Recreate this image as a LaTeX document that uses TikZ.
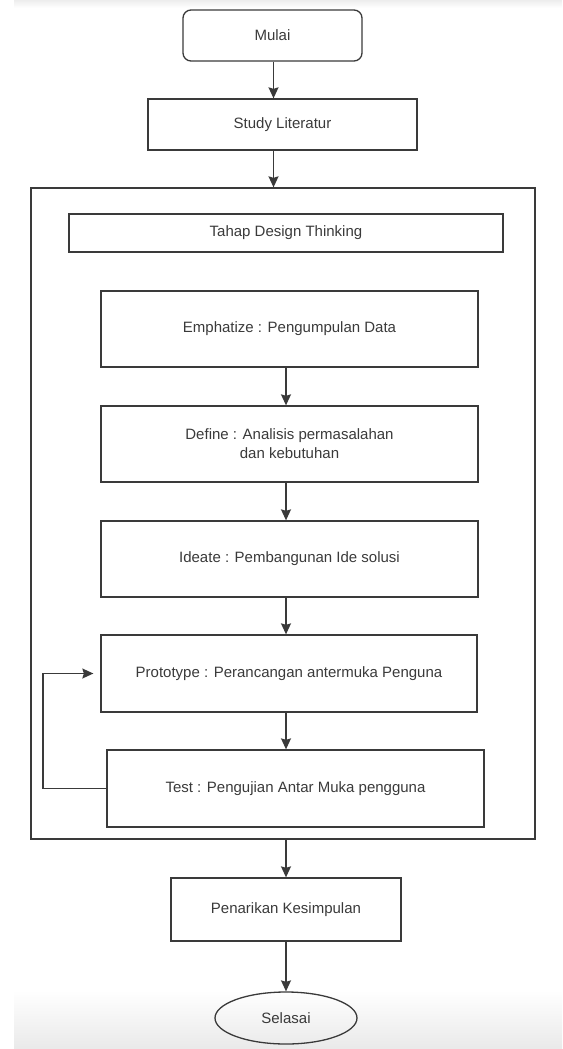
\documentclass[tikz,border=0pt]{standalone}
\usepackage{fontspec}
\setmainfont{Liberation Sans}
\usetikzlibrary{arrows.meta,shapes.geometric}
\definecolor{linec}{HTML}{3A3A3A}
\definecolor{textc}{HTML}{3A3A3A}
\tikzset{
  box/.style={draw=linec, line width=1.3pt, rectangle, inner sep=0pt, align=center,
    text=textc, font=\fontsize{15}{19}\selectfont},
  arr/.style={draw=linec, line width=1.3pt, -{Stealth[length=11pt,width=10pt,inset=1.5pt]}},
}
\begin{document}
\begin{tikzpicture}[x=1pt,y=-1pt]
\useasboundingbox (0,0) rectangle (562,1049);
% screenshot background bands
\shade[top color=gray!14, bottom color=white] (14,0) rectangle (562,8);
\shade[top color=white, bottom color=gray!17] (14,990) rectangle (562,1049);

\node[box, rounded corners=8pt, minimum width=179pt, minimum height=51pt] (mulai) at (272.5,35.5) {Mulai};
\node[box, minimum width=269pt, minimum height=51pt] (study) at (282.5,124.5) {Study Literatur};
\node[box, minimum width=504pt, minimum height=651pt] (dt) at (283,513.5) {};
\node[box, minimum width=434pt, minimum height=38pt] (tahap) at (286,233) {Tahap Design Thinking};
\node[box, minimum width=377pt, minimum height=76pt] (emph) at (289.5,329) {Emphatize : Pengumpulan Data};
\node[box, minimum width=377pt, minimum height=76pt] (def) at (289.5,444) {Define : Analisis permasalahan\\dan kebutuhan};
\node[box, minimum width=377pt, minimum height=76pt] (ideate) at (289.5,559) {Ideate : Pembangunan Ide solusi};
\node[box, minimum width=376pt, minimum height=77pt] (proto) at (289,673.5) {Prototype : Perancangan antermuka Penguna};
\node[box, minimum width=377pt, minimum height=77pt] (test) at (295.5,788.5) {Test : Pengujian Antar Muka pengguna};
\node[box, minimum width=230pt, minimum height=63pt] (tarik) at (286,909.5) {Penarikan Kesimpulan};
\node[box, ellipse, minimum width=142pt, minimum height=52pt] (selesai) at (286,1018) {Selasai};

\coordinate (c1) at (273.5,0);
\coordinate (c2) at (286,0);
\coordinate (loopx) at (43,0);

\draw[arr] (mulai.south -| c1) -- (study.north -| c1);
\draw[arr] (study.south -| c1) -- (dt.north -| c1);
\draw[arr] (emph.south -| c2) -- (def.north -| c2);
\draw[arr] (def.south -| c2) -- (ideate.north -| c2);
\draw[arr] (ideate.south -| c2) -- (proto.north -| c2);
\draw[arr] (proto.south -| c2) -- (test.north -| c2);
\draw[arr] (dt.south -| c2) -- (tarik.north -| c2);
\draw[arr] (tarik.south -| c2) -- (selesai.north -| c2);
\draw[arr, shorten >=7pt] (test.west) -- (test.west -| loopx) -- (proto.west -| loopx) -- (proto.west);
\end{tikzpicture}
\end{document}
